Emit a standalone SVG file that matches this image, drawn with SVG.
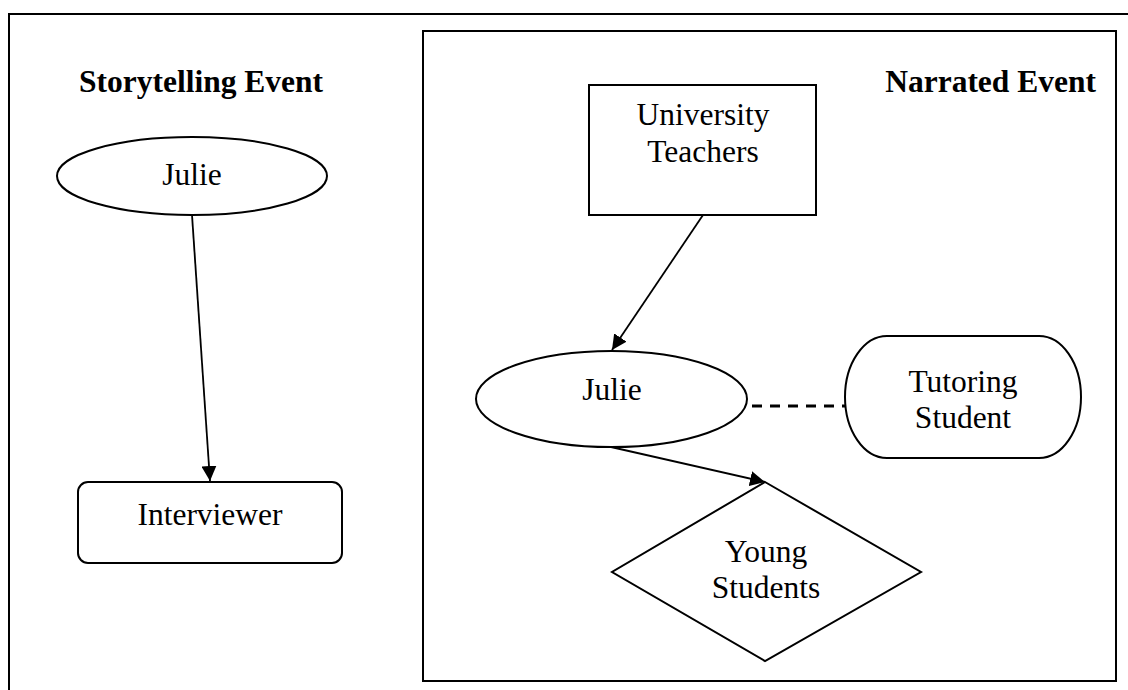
<svg xmlns="http://www.w3.org/2000/svg" width="1128" height="690" viewBox="0 0 1128 690">
<defs>
<style>
.t{font-family:"Liberation Serif","Times New Roman",serif;font-size:31.5px;fill:#000;text-anchor:middle}
.b{font-weight:bold}
.s{fill:#fff;stroke:#000;stroke-width:2}
.c{stroke:#000;stroke-width:1.8;fill:none}
</style>
<marker id="ah" markerUnits="userSpaceOnUse" markerWidth="15" markerHeight="15" refX="15" refY="7.5" orient="auto">
<path d="M0,0 L15,7.5 L0,15 z" fill="#000"/>
</marker>
</defs>
<rect width="1128" height="690" fill="#fff"/>
<path d="M9,692 V14 H1130" fill="none" stroke="#000" stroke-width="2"/>
<rect x="423" y="31" width="693" height="650" fill="none" stroke="#000" stroke-width="2"/>
<text class="t b" x="201" y="92">Storytelling Event</text>
<text class="t b" x="1096" y="92" style="text-anchor:end">Narrated Event</text>
<g id="connectors">
<line class="c" x1="192" y1="215" x2="210" y2="481" marker-end="url(#ah)"/>
<line class="c" x1="703" y1="215" x2="612" y2="350" marker-end="url(#ah)"/>
<line class="c" x1="611" y1="447" x2="765" y2="482" marker-end="url(#ah)"/>
<line x1="752" y1="406" x2="845" y2="406" stroke="#000" stroke-width="3" stroke-dasharray="10 8"/>
</g>
<g id="julie1">
<ellipse class="s" cx="192" cy="176" rx="135" ry="39"/>
<text class="t" x="192" y="185">Julie</text>
</g>
<g id="interviewer">
<rect class="s" x="78" y="482" width="264" height="81" rx="10"/>
<text class="t" x="210" y="525">Interviewer</text>
</g>
<g id="teachers">
<rect class="s" x="589" y="85" width="227" height="130"/>
<text class="t" x="703" y="125">University</text>
<text class="t" x="703" y="162">Teachers</text>
</g>
<g id="julie2">
<ellipse class="s" cx="611.5" cy="399" rx="135.5" ry="48"/>
<text class="t" x="612" y="400">Julie</text>
</g>
<g id="tutoring">
<path class="s" d="M887,336 H1039 A42,61 0 0 1 1039,458 H887 A42,61 0 0 1 887,336 Z"/>
<text class="t" x="963" y="392">Tutoring</text>
<text class="t" x="963" y="428">Student</text>
</g>
<g id="young">
<polygon class="s" points="765,482 921,572 765,661 612,572"/>
<text class="t" x="766" y="562">Young</text>
<text class="t" x="766" y="598">Students</text>
</g>
</svg>
